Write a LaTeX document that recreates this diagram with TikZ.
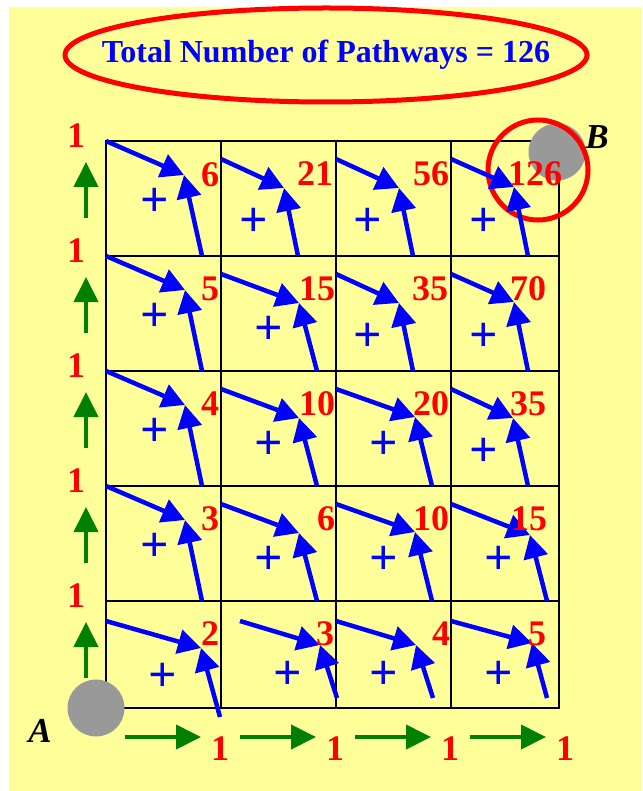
\documentclass[tikz,border=0pt]{standalone}
\usepackage{fontspec}
\setmainfont{Liberation Serif}
\usetikzlibrary{arrows.meta}
\definecolor{slideyellow}{HTML}{FFFF99}
\definecolor{pathgreen}{HTML}{008000}
\definecolor{spotgray}{HTML}{999999}

\begin{document}
\begin{tikzpicture}[
  x=1pt, y=-1pt,
  every node/.style={inner sep=0pt},
  count/.style={text=red, font=\bfseries\fontsize{36}{36}\selectfont},
  plus/.style={text=blue, font=\bfseries\fontsize{50}{50}\selectfont},
  title/.style={text=blue, font=\bfseries\fontsize{32}{32}\selectfont},
  corner/.style={font=\bfseries\itshape\fontsize{35}{35}\selectfont},
  add/.style={draw=blue, line width=4.5pt, -{Triangle[length=23pt,width=24pt]}},
  edge/.style={draw=pathgreen, line width=4pt, -{Triangle[length=25pt,width=24pt]}},
  spot/.style={circle, fill=spotgray, minimum size=57pt},
  ring/.style={draw=red, line width=5pt},
  grid/.style={draw=black, line width=2pt}
]
  \useasboundingbox (0,0) rectangle (642,791);
  \fill[slideyellow] (9,7) rectangle (642,791);

  % title
  \node[title] (total) at (326,55) {Total Number of Pathways = 126};
  \draw[ring] (total.center) ellipse [x radius=261, y radius=47];

  % lattice
  \draw[grid] (106,141) rectangle (559,708);
  \foreach \x in {221,336,451}
    \draw[grid] (\x,141) -- (\x,708);
  \foreach \y in {256,371,486,601}
    \draw[grid] (106,\y) -- (559,\y);

  % end points
  \node[spot] (start) at (96,708) {};
  \node[spot] (finish) at (557,152) {};
  \node[corner] (A) at (40,731) {A};
  \node[corner] (B) at (597,137) {B};
  \draw[ring] (538,170) circle [radius=50];

  % left edge: one way up
  \foreach \y [count=\i] in {141,256,371,486,601} {
    \node[count] (left-\i) at (76,\y-5) {1};
    \coordinate (lo-\i) at (86,\y+77);
    \coordinate (hi-\i) at (86,\y+21);
    \draw[edge] (lo-\i) -- (hi-\i);
  }

  % bottom edge: one way across
  \foreach \x [count=\i] in {125,240,355,470} {
    \coordinate (tail-\i) at (\x,737);
    \coordinate (head-\i) at (\x+76,737);
    \draw[edge] (tail-\i) -- (head-\i);
    \node[count] (bottom-\i) at (\x+95,749) {1};
  }

  % each cell: left + below
  \foreach \r/\c/\sx/\sy/\tx/\ty/\ux/\uy/\nx/\ny/\num/\px/\py in {
      1/1/106/141/184/175/202/256/210/175/6/155/202,
      1/2/221/159/284/188/298/256/315/174/21/254/222,
      1/3/336/159/399/188/413/256/431/174/56/368/222,
      1/4/451/159/514/187/528/256/535/174/126/484/222,
      2/1/106/256/185/290/202/371/210/289/5/155/317,
      2/2/221/274/299/303/317/371/317/289/15/269/330,
      2/3/336/274/399/303/413/371/430/289/35/368/337,
      2/4/451/274/514/302/528/371/528/289/70/484/337,
      3/1/106/371/185/405/202/486/210/404/4/155/432,
      3/2/221/389/299/418/317/486/317/404/10/269/445,
      3/3/336/389/415/417/432/486/431/404/20/384/445,
      3/4/451/389/513/418/528/486/528/404/35/484/452,
      4/1/106/486/185/520/202/601/210/519/3/155/547,
      4/2/221/504/299/533/317/601/326/519/6/269/560,
      4/3/336/504/415/532/432/601/431/519/10/384/560,
      4/4/451/504/530/535/547/601/529/519/15/499/560,
      5/1/106/621/201/648/220/717/210/634/2/163/677,
      5/2/240/621/320/645/337/698/325/634/3/288/675,
      5/3/336/621/416/645/433/698/441/634/4/384/675,
      5/4/451/621/532/643/547/698/537/634/5/499/675} {
    \coordinate (from-\r\c) at (\sx,\sy);
    \coordinate (meet-\r\c) at (\tx,\ty);
    \coordinate (below-\r\c) at (\ux,\uy);
    \draw[add] (from-\r\c) -- (meet-\r\c);
    \draw[add] (below-\r\c) -- (meet-\r\c);
    \node[count] (sum-\r\c) at (\nx,\ny) {\num};
    \node[plus] (plus-\r\c) at (\px,\py) {+};
  }
\end{tikzpicture}
\end{document}
